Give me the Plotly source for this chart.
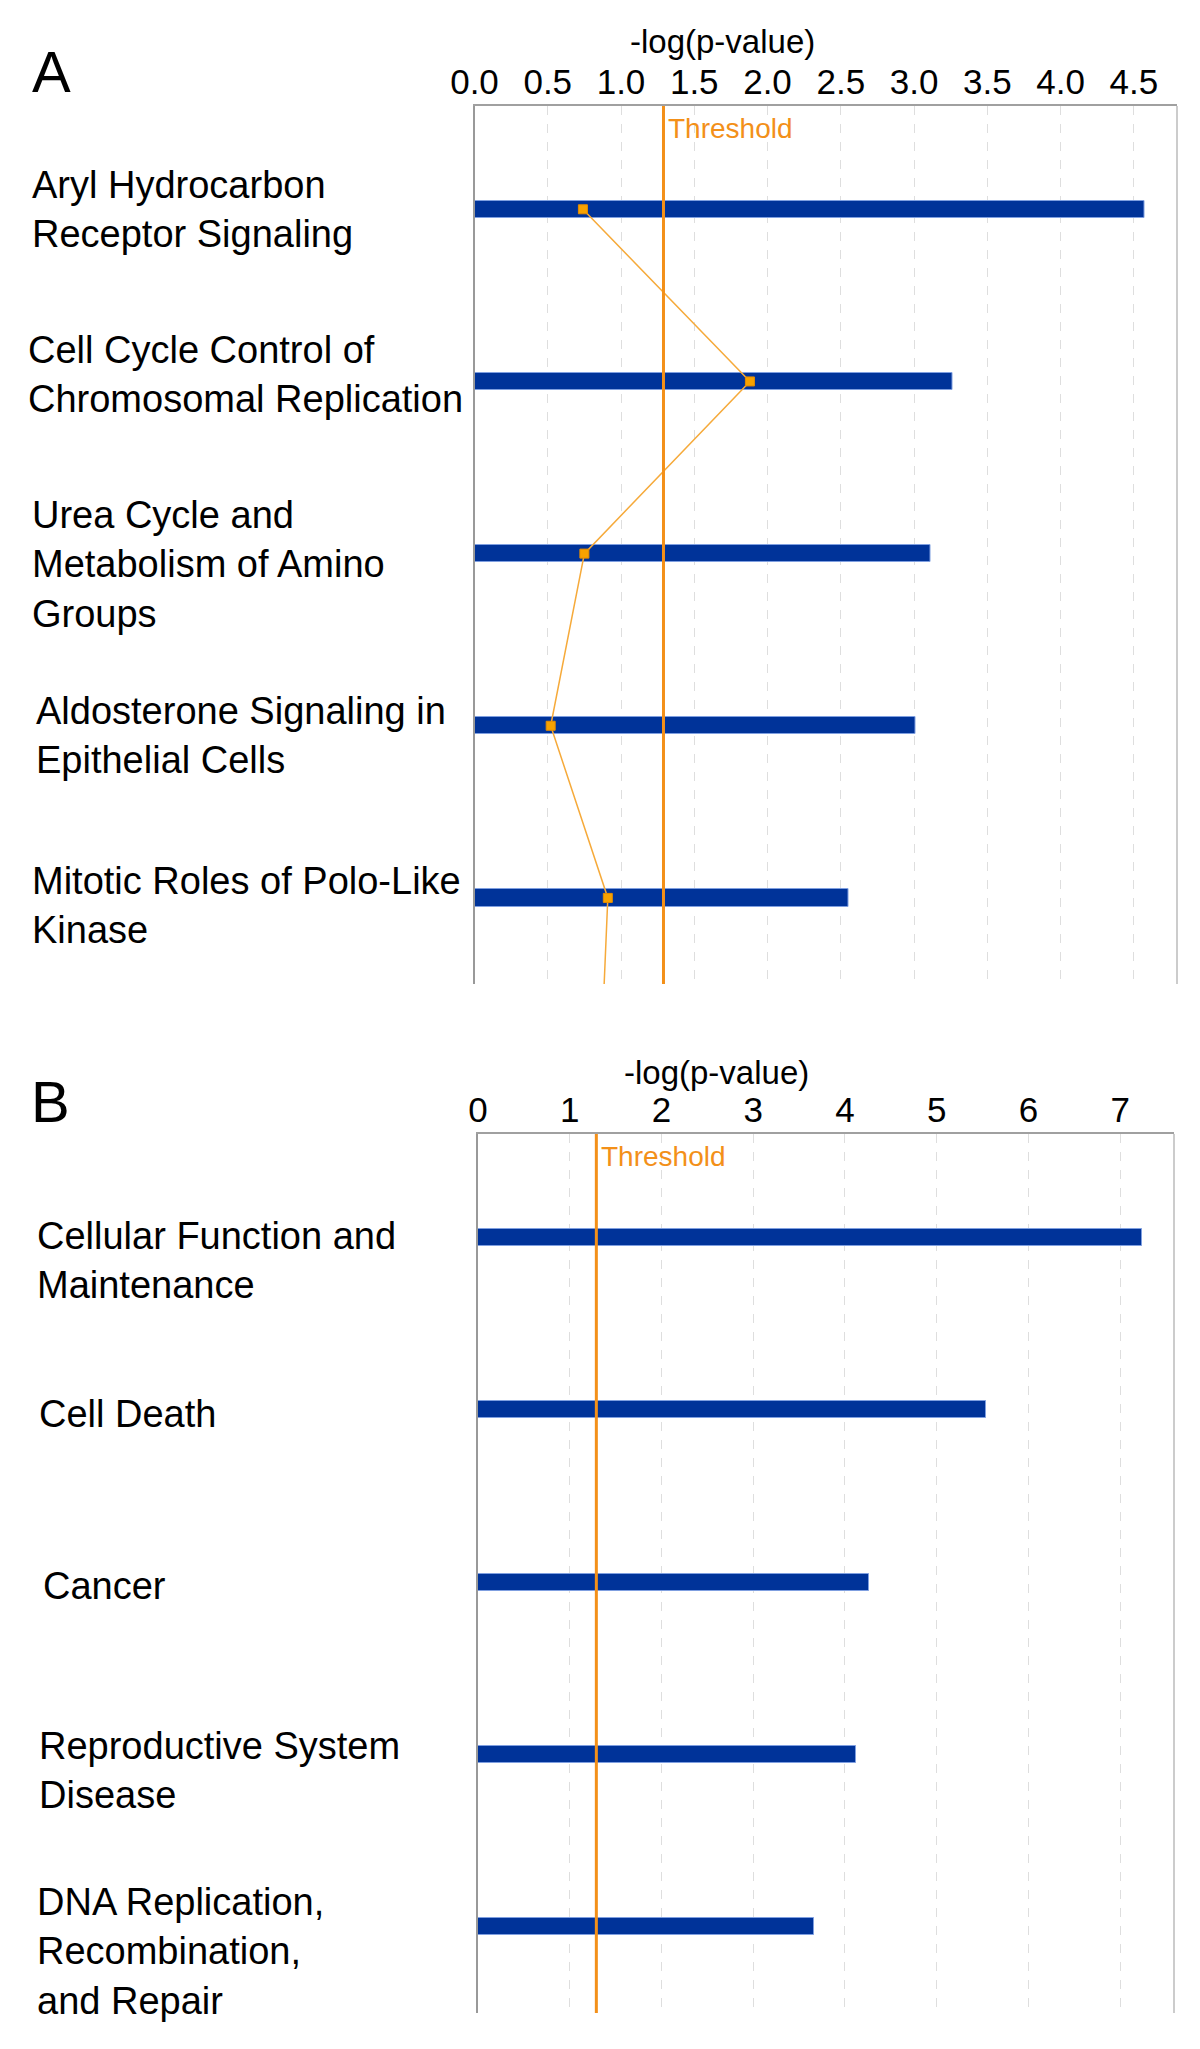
import plotly.graph_objects as go

# panel A - canonical pathways
pathways = [
    "Aryl Hydrocarbon<br>Receptor Signaling",
    "Cell Cycle Control of<br>Chromosomal Replication",
    "Urea Cycle and<br>Metabolism of Amino<br>Groups",
    "Aldosterone Signaling in<br>Epithelial Cells",
    "Mitotic Roles of Polo-Like<br>Kinase",
]
pathway_logp = [4.57, 3.26, 3.11, 3.01, 2.55]
# ratio line continues to a sixth pathway that is cut off below the panel
pathway_ratio = [0.74, 1.88, 0.75, 0.52, 0.91, 0.86]
ticks_a = [0.0, 0.5, 1.0, 1.5, 2.0, 2.5, 3.0, 3.5, 4.0, 4.5]

# panel B - functions
functions = [
    "Cellular Function and<br>Maintenance",
    "Cell Death",
    "Cancer",
    "Reproductive System<br>Disease",
    "DNA Replication,<br>Recombination,<br>and Repair",
]
function_logp = [7.24, 5.54, 4.26, 4.12, 3.66]
ticks_b = [0, 1, 2, 3, 4, 5, 6, 7]

threshold = 1.29

BLUE = "#003399"
ORANGE = "#F39019"
FONT = "Arial, Liberation Sans, sans-serif"
W, H = 1200, 2049

fig = go.Figure()

fig.add_trace(go.Bar(
    x=pathway_logp, y=list(range(len(pathways))), orientation="h", width=0.1,
    marker=dict(color=BLUE, line=dict(color="#7f9fe0", width=1)),
    xaxis="x", yaxis="y", showlegend=False))
fig.add_trace(go.Scatter(
    x=pathway_ratio, y=list(range(len(pathway_ratio))), mode="lines+markers",
    line=dict(color="#F6AA3A", width=1.5),
    marker=dict(symbol="square", size=9, color="#F7A200",
                line=dict(color="#E58C00", width=1)),
    cliponaxis=True, xaxis="x", yaxis="y", showlegend=False))

fig.add_trace(go.Bar(
    x=function_logp, y=list(range(len(functions))), orientation="h", width=0.1,
    marker=dict(color=BLUE, line=dict(color="#7f9fe0", width=1)),
    xaxis="x2", yaxis="y2", showlegend=False))

xcommon = dict(side="top", showline=True, linecolor="#a0a0a0", linewidth=2,
               showgrid=True, gridcolor="#dedede", griddash="dash", gridwidth=1,
               zeroline=False, ticks="", ticklabelstandoff=-4,
               automargin=False, tickfont=dict(family=FONT, size=35, color="black"))
ycommon = dict(range=[4.5, -0.6], showline=True, linecolor="#999999", linewidth=2,
               showgrid=False, zeroline=False, showticklabels=False, ticks="",
               automargin=False)

fig.update_layout(
    width=W, height=H, margin=dict(l=0, r=0, t=0, b=0, pad=0, autoexpand=False),
    paper_bgcolor="white", plot_bgcolor="white", bargap=0,
    xaxis=dict(domain=[474.5 / W, 1177 / W], range=[0, 4.795], tickvals=ticks_a,
               tickformat=".1f", anchor="y", **xcommon),
    yaxis=dict(domain=[1 - 984 / H, 1 - 106 / H], anchor="x", **ycommon),
    xaxis2=dict(domain=[478 / W, 1174 / W], range=[0, 7.587], tickvals=ticks_b,
                anchor="y2", **xcommon),
    yaxis2=dict(domain=[1 - 2013 / H, 1 - 1134 / H], anchor="x2", **ycommon),
)

# threshold lines, right borders
for xa, ya in [("x", "y"), ("x2", "y2")]:
    fig.add_shape(type="line", xref=xa, yref=ya + " domain", x0=threshold, x1=threshold,
                  y0=0, y1=1, line=dict(color=ORANGE, width=3))
    fig.add_shape(type="line", xref=xa + " domain", yref=ya + " domain", x0=1, x1=1,
                  y0=0, y1=1, line=dict(color="#cccccc", width=2))
    fig.add_annotation(x=threshold, xref=xa, y=1, yref=ya + " domain", text="Threshold",
                       showarrow=False, xanchor="left", yanchor="top", xshift=3, yshift=-5,
                       font=dict(family=FONT, size=28, color=ORANGE))

# axis titles and panel letters
title_font = dict(family=FONT, size=33, color="black")
fig.add_annotation(x=817 / W, y=1 - 42 / H, xref="paper", yref="paper", text="-log(p-value)",
                   showarrow=False, yanchor="middle", font=title_font)
fig.add_annotation(x=811 / W, y=1 - 1072 / H, xref="paper", yref="paper", text="-log(p-value)",
                   showarrow=False, yanchor="middle", font=title_font)
fig.add_annotation(x=30 / W, y=1 - 71 / H, xref="paper", yref="paper", text="A",
                   showarrow=False, xanchor="left", yanchor="middle",
                   font=dict(family=FONT, size=58, color="black"))
fig.add_annotation(x=29 / W, y=1 - 1101 / H, xref="paper", yref="paper", text="B",
                   showarrow=False, xanchor="left", yanchor="middle",
                   font=dict(family=FONT, size=58, color="black"))

# category labels
label_x_a = [30, 26, 30, 34, 30]
label_dy_a = [0, -7, 11, 10, 8]
label_x_b = [35, 37, 41, 37, 35]
label_dy_b = [23, 4, 4, 16, 25]
for i, name in enumerate(pathways):
    fig.add_annotation(x=label_x_a[i] / W, xref="paper", y=i, yref="y", text=name,
                       showarrow=False, xanchor="left", yanchor="middle", align="left",
                       yshift=-label_dy_a[i], font=dict(family=FONT, size=38, color="black"))
for i, name in enumerate(functions):
    fig.add_annotation(x=label_x_b[i] / W, xref="paper", y=i, yref="y2", text=name,
                       showarrow=False, xanchor="left", yanchor="middle", align="left",
                       yshift=-label_dy_b[i], font=dict(family=FONT, size=38, color="black"))

fig.write_html("out.html", config={"displayModeBar": False},
               post_script="document.body.style.margin='0';")
